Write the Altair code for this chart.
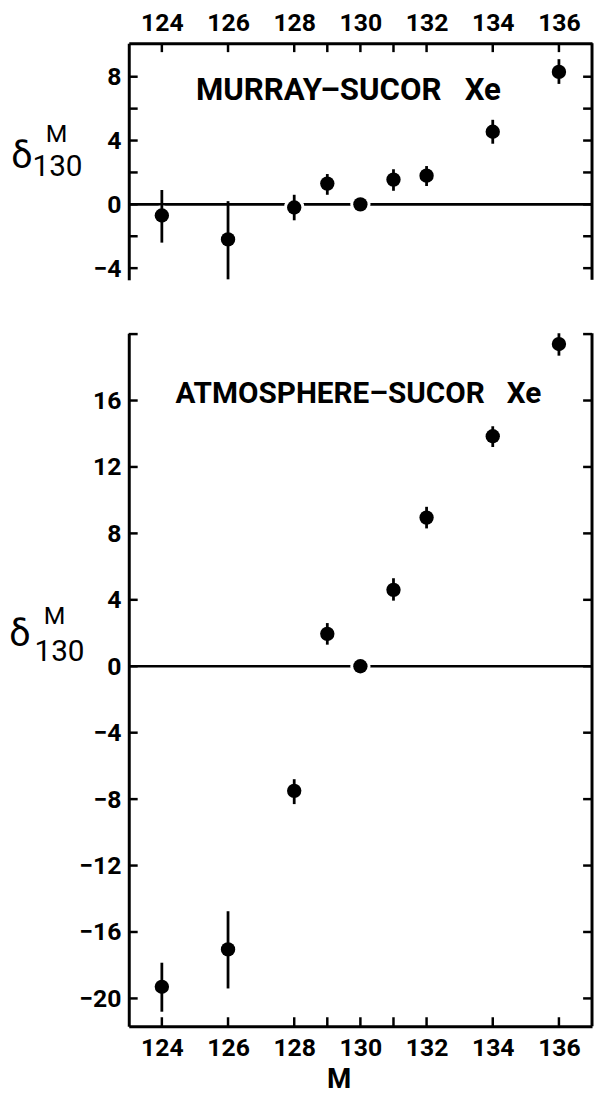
import altair as alt
import pandas as pd

# ---------------- data ----------------
mass = [124, 126, 128, 129, 130, 131, 132, 134, 136]

# MURRAY - SUCOR Xe (delta^M_130)
murray_delta = [-0.7, -2.2, -0.2, 1.3, 0.0, 1.55, 1.8, 4.55, 8.3]
murray_lo = [-2.4, -4.7, -1.0, 0.6, None, 0.85, 1.15, 3.8, 7.55]
murray_hi = [0.9, 0.2, 0.6, 1.9, None, 2.2, 2.4, 5.3, 9.1]

# ATMOSPHERE - SUCOR Xe (delta^M_130)
atm_delta = [-19.3, -17.05, -7.5, 1.95, 0.0, 4.6, 8.95, 13.85, 19.4]
atm_lo = [-20.8, -19.4, -8.3, 1.3, None, 3.95, 8.3, 13.2, 18.7]
atm_hi = [-17.85, -14.75, -6.8, 2.6, None, 5.3, 9.6, 14.45, 20.05]

x_tick_values = [124, 126, 128, 129, 130, 131, 132, 134, 136]
x_label_values = [124, 126, 128, 130, 132, 134, 136]
top_y_ticks = [-4, -2, 0, 2, 4, 6, 8]
top_y_labels = [-4, 0, 4, 8]
bot_y_ticks = [-20, -16, -12, -8, -4, 0, 4, 8, 12, 16, 20]
bot_y_labels = [-20, -16, -12, -8, -4, 0, 4, 8, 12, 16]

top_note = "MURRAY–SUCOR\u00a0\u00a0\u00a0Xe"
bottom_note = "ATMOSPHERE–SUCOR\u00a0\u00a0\u00a0Xe"

X_DOMAIN = [123, 137]
W = 468
H_TOP = 239
H_BOT = 700
FONT = "Roboto"
TICK = 9


def make_panel(delta, lo, hi, ydom, h, yticks, ylabels, orient, xtitle,
               note, note_size, note_x, note_y, lab_pos):
    df = pd.DataFrame({"M": mass, "d": delta})
    err = pd.DataFrame({"M": mass, "lo": lo, "hi": hi}).dropna()
    xs = alt.Scale(domain=X_DOMAIN, nice=False, zero=False)
    ys = alt.Scale(domain=ydom, nice=False, zero=False)

    if xtitle:
        x_axis = alt.Axis(orient=orient, values=x_label_values, ticks=False,
                          grid=False, labelPadding=10, title=xtitle,
                          titleFontSize=28, titleFont=FONT,
                          titleFontWeight="bold", titleX=212, titleY=62,
                          titleAlign="center", titleBaseline="alphabetic",
                          format="d")
    else:
        x_axis = alt.Axis(orient=orient, values=x_label_values, ticks=False,
                          grid=False, labelPadding=8, title=None, format="d")
    y_axis = alt.Axis(values=ylabels, ticks=False, grid=False,
                      labelPadding=8, title=None, format="d")

    def X(field):
        return alt.X(field, type="quantitative", scale=xs, axis=x_axis)

    def Y(field):
        return alt.Y(field, type="quantitative", scale=ys, axis=y_axis)

    one = pd.DataFrame({"k": [0]})

    zero = alt.Chart(one).mark_rule(color="black", strokeWidth=2.6).encode(
        y=alt.datum(0, scale=ys, axis=y_axis), x=alt.value(0), x2=alt.value(W))

    halo = alt.Chart(df).mark_circle(size=420, color="white", opacity=1).encode(
        x=X("M"), y=Y("d"))

    bars = alt.Chart(err).mark_rule(color="black", strokeWidth=2.8).encode(
        x=X("M"), y=Y("lo"), y2="hi:Q")

    pts = alt.Chart(df).mark_circle(size=210, color="black", opacity=1).encode(
        x=X("M"), y=Y("d"))

    xt = pd.DataFrame({"t": x_tick_values})
    if orient == "top":
        xticks = alt.Chart(xt).mark_rule(color="black", strokeWidth=2.5).encode(
            x=X("t"), y=alt.value(0), y2=alt.value(TICK))
    else:
        xticks = alt.Chart(xt).mark_rule(color="black", strokeWidth=2.5).encode(
            x=X("t"), y=alt.value(h - TICK), y2=alt.value(h))

    yt = pd.DataFrame({"t": yticks})
    yticks_left = alt.Chart(yt).mark_rule(color="black", strokeWidth=2.5).encode(
        y=Y("t"), x=alt.value(0), x2=alt.value(TICK))
    yticks_right = alt.Chart(yt).mark_rule(color="black", strokeWidth=2.5).encode(
        y=Y("t"), x=alt.value(W - TICK), x2=alt.value(W))

    right_frame = alt.Chart(pd.DataFrame({"k": [1]})).mark_rule(
        color="black", strokeWidth=3).encode(
        x=alt.value(W), y=alt.value(0), y2=alt.value(h))

    note_txt = alt.Chart(pd.DataFrame({"t": [note]})).mark_text(
        font=FONT, fontSize=note_size, fontWeight="bold", color="black",
        align="center", baseline="middle"
    ).encode(text="t:N", x=alt.datum(note_x, scale=xs, axis=x_axis),
             y=alt.datum(note_y, scale=ys, axis=y_axis))

    (dx, dy), (mx, my), (nx, ny) = lab_pos
    lab_d = alt.Chart(pd.DataFrame({"t": ["δ"]})).mark_text(
        font=FONT, fontSize=38, color="black", align="center", baseline="middle"
    ).encode(text="t:N", x=alt.value(dx), y=alt.datum(dy, scale=ys, axis=y_axis))
    lab_m = alt.Chart(pd.DataFrame({"t": ["M"]})).mark_text(
        font=FONT, fontSize=25, color="black", align="center", baseline="middle"
    ).encode(text="t:N", x=alt.value(mx), y=alt.datum(my, scale=ys, axis=y_axis))
    lab_n = alt.Chart(pd.DataFrame({"t": ["130"]})).mark_text(
        font=FONT, fontSize=30, color="black", align="center", baseline="middle"
    ).encode(text="t:N", x=alt.value(nx), y=alt.datum(ny, scale=ys, axis=y_axis))

    return alt.layer(zero, halo, bars, pts, xticks, yticks_left,
                     yticks_right, right_frame, note_txt, lab_d, lab_m, lab_n
                     ).properties(width=W, height=h)


top = make_panel(murray_delta, murray_lo, murray_hi, [-4.73, 10.1], H_TOP,
                 top_y_ticks, top_y_labels, "top", None,
                 top_note, 31.5, 129.64, 7.1,
                 ((-108, 2.93), (-73, 4.4), (-72, 2.35)))
bottom = make_panel(atm_delta, atm_lo, atm_hi, [-21.67, 20.05], H_BOT,
                    bot_y_ticks, bot_y_labels, "bottom", "M",
                    bottom_note, 30, 129.94, 16.4,
                    ((-110, 1.9), (-75, 3.0), (-70, 0.85)))

chart = alt.vconcat(top, bottom, spacing=54, bounds="flush").resolve_scale(
    y="independent"
).properties(
    padding={"left": 1, "top": -3, "right": 0, "bottom": 0}
).configure_view(stroke=None).configure_axis(
    domainColor="black", domainWidth=3, labelColor="black", labelFont=FONT,
    labelFontSize=25, labelFontWeight="bold", titleColor="black"
)

chart.save("out.html", embed_options={"renderer": "svg", "actions": False})
